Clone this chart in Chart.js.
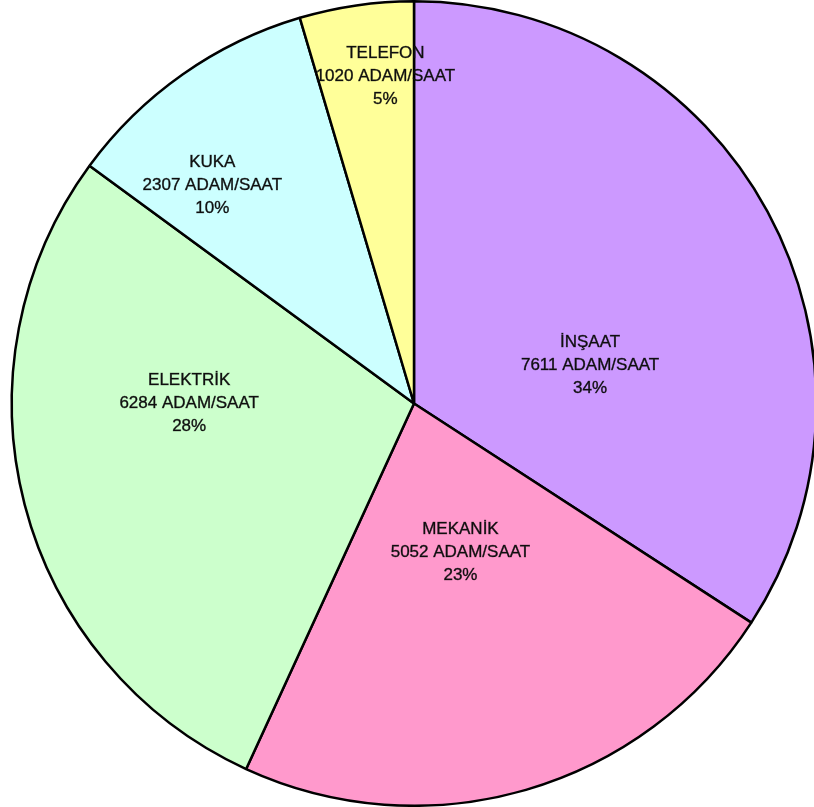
<!DOCTYPE html>
<html>
<head>
<meta charset="utf-8">
<script src="https://cdn.jsdelivr.net/npm/chart.js@4/dist/chart.umd.min.js"></script>
<style>
  html, body { margin: 0; padding: 0; background: #fff; overflow: hidden; }
  #wrap { position: absolute; left: 0; top: 0; width: 828px; height: 807px; }
</style>
</head>
<body>
<div id="wrap"><canvas id="c" width="828" height="807"></canvas></div>
<script>
// Data
const categories = ['İNŞAAT', 'MEKANİK', 'ELEKTRİK', 'KUKA', 'TELEFON'];
const values = [7611, 5052, 6284, 2307, 1020];
const unitLabel = 'ADAM/SAAT';

// Styles
const colors = ['#CC99FF', '#FF99CC', '#CCFFCC', '#CCFFFF', '#FFFF99'];
// label placement: [angle offset from slice middle (deg), radius fraction]
const labelPlacement = [[16.2, 0.448], [-1.2, 0.387], [14.6, 0.559], [-7.6, 0.739], [3.25, 0.817]];

const total = values.reduce((a, b) => a + b, 0);

const labelPlugin = {
  id: 'sliceLabels',
  afterDatasetsDraw(chart) {
    const ctx = chart.ctx;
    const meta = chart.getDatasetMeta(0);
    ctx.save();
    ctx.font = '17px "Liberation Sans", Arial, sans-serif';
    ctx.fillStyle = '#111';
    ctx.strokeStyle = 'rgba(0,0,0,0.6)';
    ctx.lineWidth = 0.5;
    ctx.textAlign = 'center';
    ctx.textBaseline = 'middle';
    meta.data.forEach((arc, i) => {
      const p = arc.getProps(['x', 'y', 'startAngle', 'endAngle', 'outerRadius'], true);
      const mid = (p.startAngle + p.endAngle) / 2 + labelPlacement[i][0] * Math.PI / 180;
      const r = p.outerRadius * labelPlacement[i][1];
      const cx = p.x + Math.cos(mid) * r;
      const cy = p.y + Math.sin(mid) * r;
      const pct = Math.round(values[i] / total * 100) + '%';
      const lines = [categories[i], values[i] + ' ' + unitLabel, pct];
      const lh = 23;
      lines.forEach((t, k) => {
        ctx.fillText(t, cx, cy + (k - 1) * lh);
        ctx.strokeText(t, cx, cy + (k - 1) * lh);
      });
    });
    ctx.restore();
  }
};

new Chart(document.getElementById('c'), {
  type: 'pie',
  data: {
    labels: categories,
    datasets: [{
      data: values,
      backgroundColor: colors,
      borderColor: '#000',
      borderWidth: 2.5
    }]
  },
  options: {
    responsive: false,
    animation: false,
    devicePixelRatio: 1,
    layout: { padding: 0 },
    plugins: {
      legend: { display: false },
      tooltip: { enabled: false }
    }
  },
  plugins: [labelPlugin]
});
</script>
</body>
</html>
